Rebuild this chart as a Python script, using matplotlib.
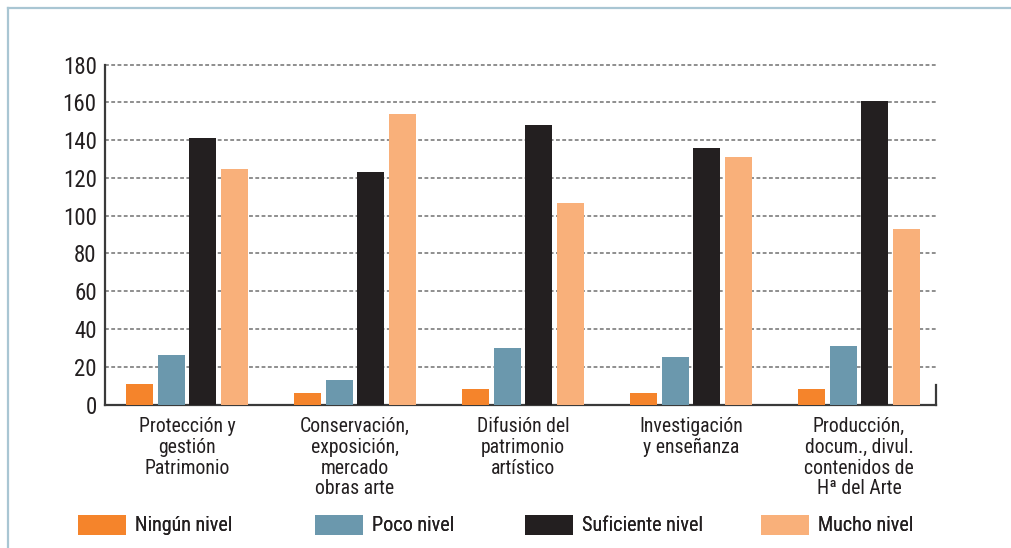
import matplotlib.pyplot as plt
from matplotlib import font_manager
from matplotlib.lines import Line2D
from matplotlib.patches import Patch
import numpy as np

# Nivel de conocimiento por ámbito profesional
categorias = [
    "Protección y\ngestión\nPatrimonio",
    "Conservación,\nexposición,\nmercado\nobras arte",
    "Difusión del\npatrimonio\nartístico",
    "Investigación\ny enseñanza",
    "Producción,\ndocum., divul.\ncontenidos de\nHª del Arte",
]
niveles = ["Ningún nivel", "Poco nivel", "Suficiente nivel", "Mucho nivel"]

ningun = [11, 6, 8, 6, 8]
poco = [26, 13, 30, 25, 31]
suficiente = [141, 123, 148, 136, 161]
mucho = [125, 154, 107, 131, 93]

colores = ["#f5842b", "#6b98ad", "#231f20", "#f9b07a"]
texto = "#231f20"


def fuente_disponible(nombre):
    try:
        font_manager.findfont(font_manager.FontProperties(family=nombre),
                              fallback_to_default=False)
        return True
    except ValueError:
        return False


# tipografía estrecha si existe; si no, Liberation Sans algo más pequeña
estrechas = ['Liberation Sans Narrow', 'DejaVu Sans Condensed', 'Roboto Condensed']
elegida = next((f for f in estrechas if fuente_disponible(f)), None)
if elegida:
    plt.rcParams['font.family'] = [elegida, 'DejaVu Sans']
    t_eje, t_cat, t_ley = 16.5, 14.2, 14.5
else:
    plt.rcParams['font.family'] = ['Liberation Sans', 'DejaVu Sans']
    t_eje, t_cat, t_ley = 15, 12.5, 13

fig = plt.figure(figsize=(10.12, 5.48), dpi=100)
ax = fig.add_axes([105 / 1012, 1 - 404.5 / 548, (936 - 105) / 1012, (404.5 - 64.7) / 548])

x = np.arange(len(categorias))
paso = 0.189
ancho = 0.161
series = [ningun, poco, suficiente, mucho]
for k, (vals, col) in enumerate(zip(series, colores)):
    ax.bar(x + (k - 1.5) * paso, vals, width=ancho, color=col, zorder=3)

ax.set_ylim(0, 180)
ax.set_xlim(-0.488, 4.458)
ax.set_yticks(range(0, 181, 20))
ax.set_xticks(x)
ax.set_xticklabels(categorias, fontsize=t_cat, color=texto, linespacing=1.12, va='top')
ax.tick_params(axis='y', length=0, pad=6, labelsize=t_eje, labelcolor=texto)
ax.tick_params(axis='x', length=0, pad=9)

# rejilla discontinua
for v in range(20, 181, 20):
    ax.axhline(v, color="#707070", lw=1.1, ls=(0, (2.5, 1.6)), zorder=1, clip_on=False)

for s in ['top', 'right']:
    ax.spines[s].set_visible(False)
for s in ['left', 'bottom']:
    ax.spines[s].set_color("#3a3a3a")
    ax.spines[s].set_linewidth(1.6)
ax.plot([1, 1], [0, 0.058], transform=ax.transAxes, color="#3a3a3a", lw=1.6,
        clip_on=False, zorder=4)

# leyenda: cada entrada en su posición
em = t_ley * 100 / 72
x_ley = [78, 315, 525, 761]
for nombre, col, xl in zip(niveles, colores, x_ley):
    ley = fig.legend([Patch(facecolor=col, edgecolor='none')], [nombre],
                     loc='center left', bbox_to_anchor=(xl / 1012, 1 - 525 / 548),
                     frameon=False, fontsize=t_ley, handlelength=48 / em,
                     handleheight=23 / em, handletextpad=0.45, borderpad=0,
                     borderaxespad=0, labelcolor=texto)
    fig.add_artist(ley)

# marco
borde = "#a9c6d3"
fig.add_artist(Line2D([8 / 1012, 1], [1 - 7.5 / 548] * 2, color=borde, lw=1.6))
fig.add_artist(Line2D([8 / 1012] * 2, [0, 1 - 7.5 / 548], color=borde, lw=1.6))

fig.savefig("out.png", dpi=100)
